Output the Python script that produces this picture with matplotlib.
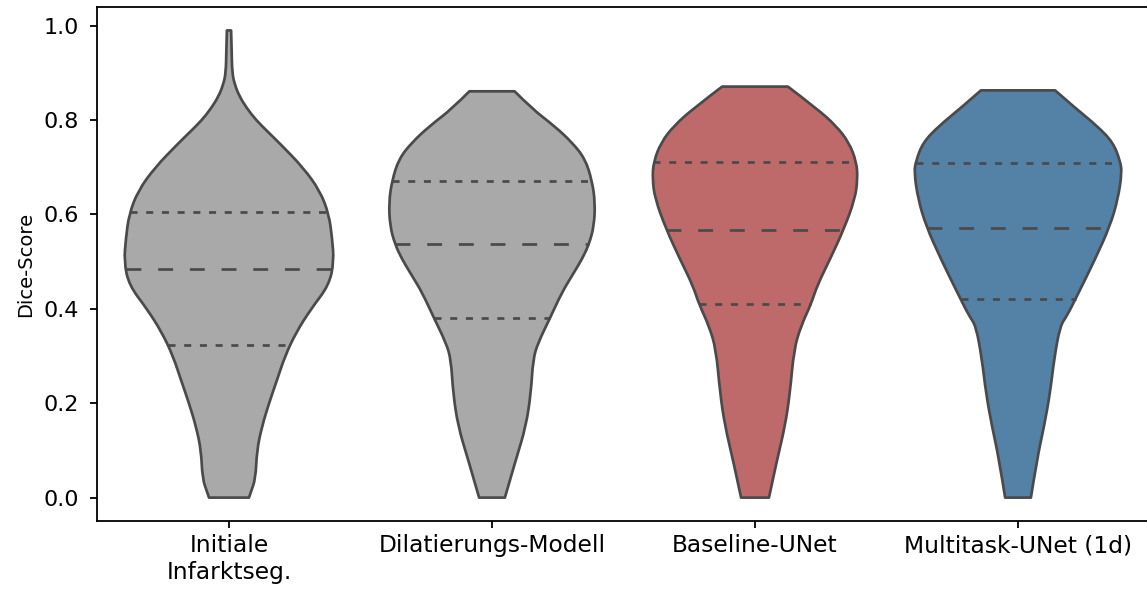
import numpy as np
import matplotlib
matplotlib.use("Agg")
import matplotlib.pyplot as plt
from matplotlib.path import Path
from matplotlib.patches import PathPatch

# group labels and colours
labels = ["Initiale\nInfarktseg.", "Dilatierungs-Modell", "Baseline-UNet", "Multitask-UNet (1d)"]
colors = ["#a9a9a9", "#bf6a6a", "#5481a6"]
fill_colors = [colors[0], colors[0], colors[1], colors[2]]
line_color = "#4a4a4a"

# violin outlines: Dice value -> half width (x units)
v1_y = [0.0, 0.01, 0.04, 0.1, 0.15, 0.2, 0.25, 0.3, 0.35, 0.4, 0.45, 0.5, 0.55, 0.6, 0.65, 0.7,
        0.75, 0.775, 0.8, 0.825, 0.85, 0.875, 0.9, 0.95, 0.99]
v1_w = [0.076, 0.082, 0.101, 0.106, 0.125, 0.152, 0.183, 0.213, 0.255, 0.312, 0.380, 0.399, 0.392,
        0.380, 0.346, 0.281, 0.194, 0.148, 0.103, 0.068, 0.040, 0.022, 0.012, 0.010, 0.008]

v2_y = [0.0, 0.081, 0.151, 0.222, 0.293, 0.328, 0.381, 0.435, 0.470, 0.505, 0.537, 0.576, 0.626,
        0.672, 0.718, 0.753, 0.788, 0.824, 0.861]
v2_w = [0.049, 0.091, 0.129, 0.148, 0.156, 0.175, 0.221, 0.266, 0.304, 0.342, 0.369, 0.388, 0.392,
        0.380, 0.354, 0.304, 0.236, 0.152, 0.086]

v3_y = [0.0, 0.081, 0.151, 0.222, 0.314, 0.364, 0.410, 0.449, 0.505, 0.569, 0.633, 0.675, 0.711,
        0.753, 0.788, 0.824, 0.871]
v3_w = [0.053, 0.084, 0.114, 0.133, 0.148, 0.175, 0.213, 0.236, 0.285, 0.338, 0.380, 0.390, 0.386,
        0.357, 0.308, 0.236, 0.125]

v4_y = [0.0, 0.081, 0.151, 0.222, 0.293, 0.364, 0.385, 0.427, 0.505, 0.576, 0.633, 0.689, 0.714,
        0.753, 0.788, 0.824, 0.863]
v4_w = [0.049, 0.072, 0.099, 0.122, 0.137, 0.160, 0.186, 0.224, 0.293, 0.350, 0.380, 0.395, 0.388,
        0.361, 0.300, 0.221, 0.141]

# quartiles (q1, median, q3)
q1 = [0.323, 0.381, 0.410, 0.421]
medians = [0.485, 0.537, 0.568, 0.571]
q3 = [0.605, 0.672, 0.711, 0.710]

profiles = [(v1_y, v1_w), (v2_y, v2_w), (v3_y, v3_w), (v4_y, v4_w)]


def smooth_side(pts):
    """quadratic bezier through midpoints, keeping both end points"""
    verts = [pts[0]]
    codes = []
    for k in range(1, len(pts) - 1):
        mid = ((pts[k][0] + pts[k + 1][0]) / 2, (pts[k][1] + pts[k + 1][1]) / 2)
        if k == len(pts) - 2:
            mid = pts[k + 1]
        verts += [pts[k], mid]
        codes += [Path.CURVE3, Path.CURVE3]
    return verts, codes


def violin_path(center, ys, ws):
    left = [(center - w, y) for y, w in zip(ys, ws)]
    right = [(center + w, y) for y, w in zip(ys[::-1], ws[::-1])]
    lv, lc = smooth_side(left)
    rv, rc = smooth_side(right)
    verts = lv + rv + [lv[0]]
    codes = [Path.MOVETO] + lc + [Path.LINETO] + rc + [Path.CLOSEPOLY]
    return Path(verts, codes)


fig = plt.figure(figsize=(11.47, 5.90), dpi=100)
ax = fig.add_axes([0.085, 0.117, 0.9172, 0.871])
lw = 1.95

for i, (ys, ws) in enumerate(profiles):
    patch = PathPatch(violin_path(i, ys, ws), facecolor=fill_colors[i], edgecolor=line_color,
                      linewidth=lw, joinstyle="round", zorder=2)
    ax.add_patch(patch)
    for val, style in [(q1[i], (0, (2.6, 3.2))), (medians[i], (0, (5.5, 6.2))), (q3[i], (0, (2.6, 3.2)))]:
        hw = np.interp(val, ys, ws)
        ax.plot([i - hw, i + hw], [val, val], color=line_color, linewidth=lw,
                linestyle=style, dash_capstyle="butt", zorder=3)

ax.set_xlim(-0.5, 3.5)
ax.set_ylim(-0.0495, 1.0395)
ax.set_xticks(range(4))
ax.set_xticklabels(labels, fontsize=16.8)
ax.set_yticks([0.0, 0.2, 0.4, 0.6, 0.8, 1.0])
ax.tick_params(axis="y", labelsize=16, width=1.3, length=5, pad=8.5)
ax.tick_params(axis="x", width=1.3, length=5, pad=4.5)
ax.set_ylabel("Dice-Score", fontsize=14, labelpad=6)
for s in ax.spines.values():
    s.set_linewidth(1.3)

fig.savefig("out.png", dpi=100)
